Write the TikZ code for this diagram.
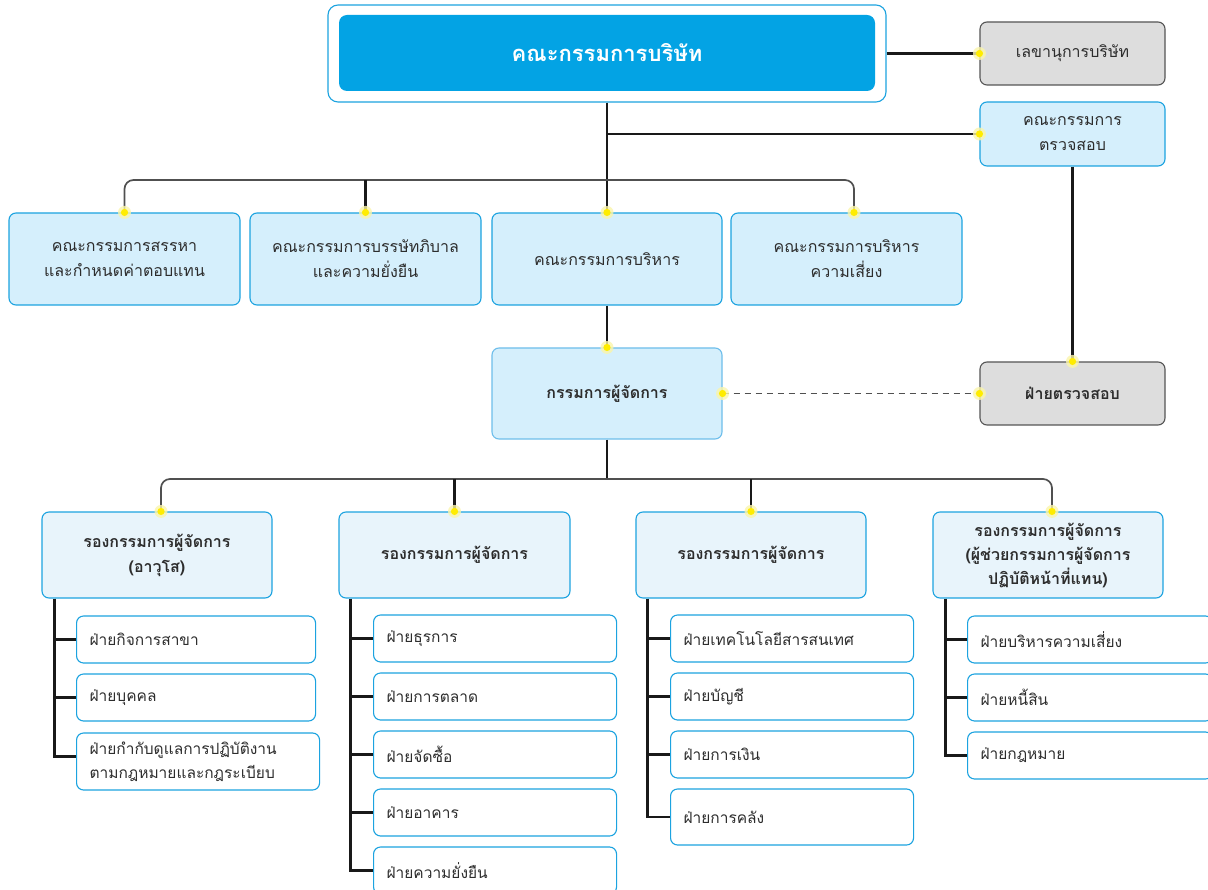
\documentclass[tikz,border=0pt]{standalone}
\usepackage{fontspec}
\setmainfont[Script=Thai]{Loma}
\definecolor{boardfill}{RGB}{3,163,228}
\definecolor{bluebd}{RGB}{28,163,224}
\definecolor{mdbd}{RGB}{110,190,235}
\definecolor{lightfill}{RGB}{213,239,252}
\definecolor{vlight}{RGB}{232,244,251}
\definecolor{grayfill}{RGB}{221,221,221}
\definecolor{graybd}{RGB}{85,85,85}
\definecolor{txt}{RGB}{45,45,45}
\definecolor{linec}{RGB}{25,25,25}
\definecolor{busc}{RGB}{80,80,80}
\definecolor{dotc}{RGB}{255,236,0}
\definecolor{haloc}{RGB}{250,245,170}
\newcommand\ydot[1]{\fill[haloc,opacity=0.8] (#1) circle (6.5pt); \fill[dotc] (#1) circle (3.6pt);}
\begin{document}
\begin{tikzpicture}[x=1pt,y=-1pt,
  box/.style={draw=bluebd, line width=1.1pt, rounded corners=7pt, align=center, text=txt,
    font=\fontsize{16}{25}\selectfont, inner sep=0pt},
  lbox/.style={box, fill=lightfill},
  vbox/.style={box, fill=vlight, font=\fontsize{16}{25}\selectfont\bfseries},
  gbox/.style={box, fill=grayfill, draw=graybd},
  kid/.style={draw=bluebd, line width=1.1pt, fill=white, rounded corners=7pt, align=left, text=txt,
    font=\fontsize{15.5}{25}\selectfont, inner xsep=13pt, inner ysep=0pt, anchor=west},
  conn/.style={draw=linec, line width=2.3pt},
  bus/.style={draw=busc, line width=1.7pt, rounded corners=9pt},
  dash line/.style={draw=busc, line width=1.4pt, dash pattern=on 6pt off 5pt}
]
\useasboundingbox (0,0) rectangle (1208,890);
\clip (0,0) rectangle (1208,890);
\fill[white] (0,0) rectangle (1208,890);

% ---- nodes ----
\node[box, fill=white, minimum width=558, minimum height=97, rounded corners=10pt] (boardout) at (607,53.5) {};
\node[box, fill=boardfill, draw=none, minimum width=536, minimum height=76, rounded corners=8pt,
  text=white, font=\fontsize{22}{26}\selectfont\bfseries] (board) at (607,53) {คณะกรรมการบริษัท};
\node[gbox, minimum width=185, minimum height=63] (sec) at (1072.5,53.5) {เลขานุการบริษัท};
\node[lbox, minimum width=185, minimum height=64] (audc) at (1072.5,134) {คณะกรรมการ\\ตรวจสอบ};

\node[lbox, minimum width=231, minimum height=92] (c1) at (124.5,259) {คณะกรรมการสรรหา\\และกำหนดค่าตอบแทน};
\node[lbox, minimum width=231, minimum height=92] (c2) at (365.5,259) {คณะกรรมการบรรษัทภิบาล\\และความยั่งยืน};
\node[lbox, minimum width=230, minimum height=92] (c3) at (607,259) {คณะกรรมการบริหาร};
\node[lbox, minimum width=231, minimum height=92] (c4) at (846.5,259) {คณะกรรมการบริหาร\\ความเสี่ยง};

\node[lbox, draw=mdbd, minimum width=230, minimum height=91, font=\fontsize{16}{25}\selectfont\bfseries] (md) at (607,393.5) {กรรมการผู้จัดการ};
\node[gbox, minimum width=185, minimum height=63, font=\fontsize{16}{25}\selectfont\bfseries] (auddept) at (1072.5,393.5) {ฝ่ายตรวจสอบ};

\node[vbox, minimum width=230, minimum height=86] (d1) at (157,555) {รองกรรมการผู้จัดการ\\(อาวุโส)};
\node[vbox, minimum width=231, minimum height=86] (d2) at (454.5,555) {รองกรรมการผู้จัดการ};
\node[vbox, minimum width=230, minimum height=86] (d3) at (751,555) {รองกรรมการผู้จัดการ};
\node[vbox, minimum width=230, minimum height=86, font=\fontsize{16}{24}\selectfont\bfseries] (d4) at (1048,555) {รองกรรมการผู้จัดการ\\(ผู้ช่วยกรรมการผู้จัดการ\\ปฏิบัติหน้าที่แทน)};

% column 1
\node[kid, text width=213, minimum height=47] (k11) at (76,639.5) {ฝ่ายกิจการสาขา};
\node[kid, text width=213, minimum height=47] (k12) at (76,697.5) {ฝ่ายบุคคล};
\node[kid, text width=217, minimum height=57, font=\fontsize{15.5}{24}\selectfont] (k13) at (76,761.5) {ฝ่ายกำกับดูแลการปฏิบัติงาน\\ตามกฎหมายและกฎระเบียบ};
% column 2
\node[kid, text width=217, minimum height=47] (k21) at (373,638.5) {ฝ่ายธุรการ};
\node[kid, text width=217, minimum height=47] (k22) at (373,696.5) {ฝ่ายการตลาด};
\node[kid, text width=217, minimum height=47] (k23) at (373,754.5) {ฝ่ายจัดซื้อ};
\node[kid, text width=217, minimum height=47] (k24) at (373,812.5) {ฝ่ายอาคาร};
\node[kid, text width=217, minimum height=47] (k25) at (373,870.5) {ฝ่ายความยั่งยืน};
% column 3
\node[kid, text width=217, minimum height=47] (k31) at (670,638.5) {ฝ่ายเทคโนโลยีสารสนเทศ};
\node[kid, text width=217, minimum height=47] (k32) at (670,696.5) {ฝ่ายบัญชี};
\node[kid, text width=217, minimum height=47] (k33) at (670,754.5) {ฝ่ายการเงิน};
\node[kid, text width=217, minimum height=56] (k34) at (670,817) {ฝ่ายการคลัง};
% column 4
\node[kid, text width=219, minimum height=47] (k41) at (967,639.5) {ฝ่ายบริหารความเสี่ยง};
\node[kid, text width=219, minimum height=47] (k42) at (967,697.5) {ฝ่ายหนี้สิน};
\node[kid, text width=219, minimum height=47] (k43) at (967,755.5) {ฝ่ายกฎหมาย};

% ---- coordinates ----
\coordinate (bus1) at (607,180);
\coordinate (bus2) at (607,479);
\coordinate (c4in) at ([xshift=7.5pt]c4.north);
\coordinate (d1in) at ([xshift=4pt]d1.north);
\coordinate (d4in) at ([xshift=4pt]d4.north);
\coordinate (t1) at ([xshift=13pt]d1.south west);
\coordinate (t2) at ([xshift=12pt]d2.south west);
\coordinate (t3) at ([xshift=12pt]d3.south west);
\coordinate (t4) at ([xshift=13pt]d4.south west);
\coordinate (k13in) at ([yshift=5pt]k13.west);

% ---- connectors ----
\draw[conn] (boardout.east |- sec.west) -- (sec.west);
\draw[conn] (boardout.south |- audc.west) -- (audc.west);
\draw[conn] (boardout.south) -- (c3.north);
\draw[bus] (c1.north) |- (bus1) -| (c4in);
\draw[conn] (c2.north) -- (c2.north |- bus1);
\draw[conn] (c3.south) -- (md.north);
\draw[conn] (audc.south) -- (auddept.north);
\draw[dash line] (md.east) -- (auddept.west);
\draw[conn] (md.south) -- (bus2);
\draw[bus] (d1in) |- (bus2) -| (d4in);
\draw[conn] (d2.north) -- (d2.north |- bus2);
\draw[conn] (d3.north) -- (d3.north |- bus2);

\draw[conn] (t1) |- (k13in);
\draw[conn] (k11.west -| t1) -- (k11.west);
\draw[conn] (k12.west -| t1) -- (k12.west);
\draw[conn] (t2) |- (k25.west);
\foreach \k in {k21,k22,k23,k24} \draw[conn] (\k.west -| t2) -- (\k.west);
\draw[conn] (t3) |- (k34.west);
\foreach \k in {k31,k32,k33} \draw[conn] (\k.west -| t3) -- (\k.west);
\draw[conn] (t4) |- (k43.west);
\foreach \k in {k41,k42} \draw[conn] (\k.west -| t4) -- (\k.west);

% ---- dots ----
\ydot{sec.west}
\ydot{audc.west}
\ydot{c1.north}
\ydot{c2.north}
\ydot{c3.north}
\ydot{c4in}
\ydot{md.north}
\ydot{md.east}
\ydot{auddept.west}
\ydot{auddept.north}
\ydot{d1in}
\ydot{d2.north}
\ydot{d3.north}
\ydot{d4in}
\end{tikzpicture}
\end{document}
